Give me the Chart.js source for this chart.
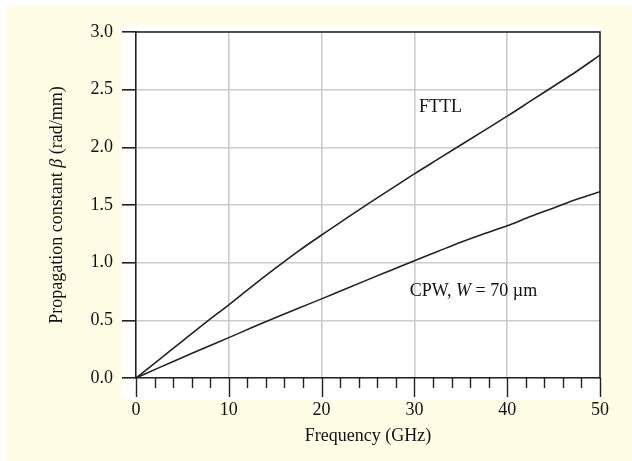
<!DOCTYPE html>
<html>
<head>
<meta charset="utf-8">
<script src="https://cdn.jsdelivr.net/npm/chart.js@4/dist/chart.umd.min.js"></script>
<style>
  html, body { margin: 0; padding: 0; background: #ffffff; }
  #wrap { width: 632px; height: 461px; }
</style>
</head>
<body>
<div id="wrap"><canvas id="beta" width="632" height="461"></canvas></div>
<script>
// Frequency sweep (GHz) and measured propagation constant (rad/mm)
const freqGHz = [0, 2.5, 5, 7.5, 10, 12.5, 15, 17.5, 20, 22.5, 25, 27.5, 30, 32.5, 35, 37.5, 40, 42.5, 45, 47.5, 50];
const fttlBeta = [0, 0.16, 0.32, 0.48, 0.635, 0.795, 0.95, 1.10, 1.24, 1.375, 1.51, 1.64, 1.77, 1.895, 2.02, 2.145, 2.27, 2.40, 2.53, 2.66, 2.80];
const cpwBeta = [0, 0.09, 0.177, 0.265, 0.35, 0.437, 0.522, 0.605, 0.686, 0.77, 0.853, 0.935, 1.017, 1.097, 1.177, 1.25, 1.32, 1.40, 1.475, 1.55, 1.615];

// axis ranges / ticks
const xTicks = [0, 10, 20, 30, 40, 50];
const yTicks = ['0.0', '0.5', '1.0', '1.5', '2.0', '2.5', '3.0'];

const SERIF = "'Liberation Serif', 'Times New Roman', serif";
const FONT_PX = 18;
const CREAM = '#fffde6';
const GRID = '#cbcbcb';
const INK = '#222222';

const toPoints = ys => freqGHz.map((f, i) => ({ x: f, y: ys[i] }));

// draw a run of text pieces, each with its own font style
function drawRich(ctx, parts, x, y, size) {
    let cx = x;
    parts.forEach(([text, style]) => {
        ctx.font = `${style || ''} ${size}px ${SERIF}`;
        ctx.fillText(text, cx, y);
        cx += ctx.measureText(text).width;
    });
}

function richWidth(ctx, parts, size) {
    return parts.reduce((w, [text, style]) => {
        ctx.font = `${style || ''} ${size}px ${SERIF}`;
        return w + ctx.measureText(text).width;
    }, 0);
}

const framePlugin = {
    id: 'frame',
    beforeDraw(chart) {
        const { ctx, chartArea: a } = chart;
        ctx.save();
        ctx.fillStyle = CREAM;
        ctx.fillRect(6, 5, chart.width - 6, chart.height - 5);
        ctx.fillStyle = '#ffffff';
        ctx.fillRect(a.left - 14, a.top - 6, a.right - a.left + 15, a.bottom - a.top + 27);
        ctx.restore();
    },
    afterDraw(chart) {
        const { ctx, chartArea: a, scales } = chart;
        ctx.save();
        ctx.strokeStyle = INK;
        ctx.lineWidth = 1.6;
        // top and right edges of the plot box
        ctx.beginPath();
        ctx.moveTo(a.left, a.top);
        ctx.lineTo(a.right, a.top);
        ctx.lineTo(a.right, a.bottom);
        ctx.stroke();

        // frequency ticks: long every 10 GHz, short every 2 GHz
        ctx.lineWidth = 1.4;
        for (let v = 0; v <= 50; v += 2) {
            const px = Math.round(scales.x.getPixelForValue(v)) + 0.5;
            const len = v % 10 === 0 ? 19 : 10;
            ctx.beginPath();
            ctx.moveTo(px, a.bottom);
            ctx.lineTo(px, a.bottom + len);
            ctx.stroke();
        }

        // curve labels
        ctx.fillStyle = '#111';
        ctx.textBaseline = 'middle';
        ctx.textAlign = 'left';
        const fttl = [['FTTL', '']];
        const fx = scales.x.getPixelForValue(32.8);
        const fy = scales.y.getPixelForValue(2.35);
        drawRich(ctx, fttl, fx - richWidth(ctx, fttl, FONT_PX) / 2, fy, FONT_PX);

        const cpw = [['CPW, ', ''], ['W', 'italic'], [' = 70 \u00b5m', '']];
        drawRich(ctx, cpw, scales.x.getPixelForValue(29.5), scales.y.getPixelForValue(0.75), FONT_PX);

        // vertical axis title
        const title = [['Propagation constant ', ''], ['\u03b2', 'italic'], [' (rad/mm)', '']];
        const tw = richWidth(ctx, title, FONT_PX);
        ctx.translate(57, (a.top + a.bottom) / 2);
        ctx.rotate(-Math.PI / 2);
        drawRich(ctx, title, -tw / 2, 0, FONT_PX);
        ctx.restore();
    }
};

new Chart(document.getElementById('beta'), {
    type: 'scatter',
    data: {
        datasets: [
            {
                label: 'FTTL',
                data: toPoints(fttlBeta),
                showLine: true,
                borderColor: INK,
                borderWidth: 1.6,
                pointRadius: 0,
                cubicInterpolationMode: 'monotone'
            },
            {
                label: 'CPW, W = 70 \u00b5m',
                data: toPoints(cpwBeta),
                showLine: true,
                borderColor: INK,
                borderWidth: 1.6,
                pointRadius: 0,
                cubicInterpolationMode: 'monotone'
            }
        ]
    },
    options: {
        responsive: false,
        animation: false,
        layout: { padding: { left: 0, top: 32, right: 32, bottom: 0 } },
        plugins: {
            legend: { display: false },
            tooltip: { enabled: false }
        },
        scales: {
            x: {
                type: 'linear',
                min: 0,
                max: 50,
                afterBuildTicks: scale => { scale.ticks = xTicks.map(v => ({ value: v })); },
                afterFit: scale => { scale.height = 83; },
                ticks: {
                    autoSkip: false,
                    maxRotation: 0,
                    padding: 2,
                    color: '#111',
                    font: { family: SERIF, size: FONT_PX }
                },
                grid: {
                    color: c => (c.tick && c.tick.value > 0 && c.tick.value < 50) ? GRID : 'rgba(0,0,0,0)',
                    lineWidth: 1.6,
                    tickLength: 19,
                    tickColor: 'rgba(0,0,0,0)'
                },
                border: { display: true, color: INK, width: 1.6 },
                title: {
                    display: true,
                    text: 'Frequency (GHz)',
                    color: '#111',
                    font: { family: SERIF, size: FONT_PX },
                    padding: { top: 0, bottom: 14 }
                }
            },
            y: {
                type: 'linear',
                min: 0,
                max: 3,
                afterBuildTicks: scale => { scale.ticks = yTicks.map(v => ({ value: parseFloat(v) })); },
                afterFit: scale => { scale.width = 136; },
                ticks: {
                    padding: 9,
                    color: '#111',
                    font: { family: SERIF, size: FONT_PX },
                    callback: v => yTicks.find(t => parseFloat(t) === v)
                },
                grid: {
                    color: GRID,
                    lineWidth: 1.6,
                    tickLength: 14,
                    tickColor: INK
                },
                border: { display: true, color: INK, width: 1.6 }
            }
        }
    },
    plugins: [framePlugin]
});
</script>
</body>
</html>
